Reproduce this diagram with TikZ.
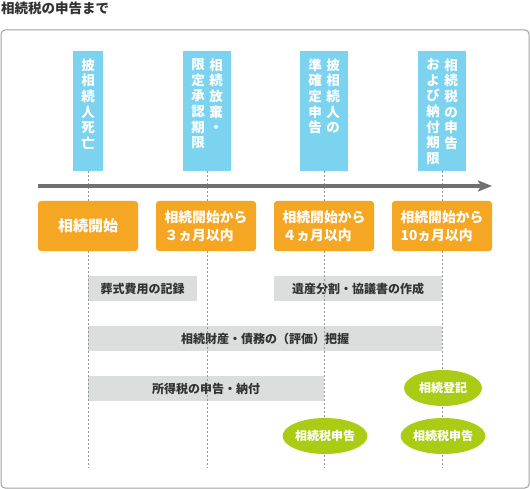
\documentclass[tikz,border=0pt]{standalone}
\usepackage{fontspec}
\setmainfont{Noto Sans CJK JP}
\usetikzlibrary{arrows.meta,shapes.geometric}
\definecolor{skyb}{RGB}{123,211,240}
\definecolor{orng}{RGB}{245,166,35}
\definecolor{barg}{RGB}{220,221,221}
\definecolor{leaf}{RGB}{170,204,20}
\definecolor{axisg}{RGB}{112,112,112}
\definecolor{dashg}{RGB}{150,150,150}
\definecolor{frameg}{RGB}{160,160,160}
\definecolor{textg}{RGB}{51,51,51}
\begin{document}
\begin{tikzpicture}[x=1pt,y=-1pt,
  bluebox/.style={fill=skyb, draw=none, inner sep=0pt, minimum height=120pt},
  vtext/.style={text=white, font=\bfseries\fontsize{13.5}{15.6}\selectfont, align=center, inner sep=0pt, anchor=north},
  orangebox/.style={fill=orng, rounded corners=3pt, minimum width=100pt, minimum height=50pt, inner sep=0pt, text=white, font=\bfseries\fontsize{13.8}{18}\selectfont, align=left},
  barbox/.style={fill=barg, minimum height=25pt, inner sep=0pt, text=textg, font=\bfseries\fontsize{12}{14}\selectfont},
  leafell/.style={ellipse, fill=leaf, minimum width=78pt, minimum height=36pt, inner sep=0pt, text=white, font=\bfseries\fontsize{12}{14}\selectfont},
  guide/.style={draw=dashg, line width=0.8pt, dash pattern=on 2pt off 2pt},
]
\useasboundingbox (0,0) rectangle (530,489);
% title
\node[anchor=base west, font=\bfseries\fontsize{13.5}{16}\selectfont, text=textg, inner sep=0pt] (title) at (1,14) {相続税の申告まで};
% frame
\draw[draw=frameg, line width=1pt, rounded corners=4pt] (1,30) rectangle (529,488);

% blue boxes
\node[bluebox, minimum width=30pt] (b1) at (88,111) {};
\node[bluebox, minimum width=48pt] (b2) at (207,111) {};
\node[bluebox, minimum width=48pt] (b3) at (324,111) {};
\node[bluebox, minimum width=48pt] (b4) at (442,111) {};
\node[vtext] (t1) at (88,58.5) {披\\相\\続\\人\\死\\亡};
\node[vtext] (t2r) at (216,58.5) {相\\続\\放\\棄\\・};
\node[vtext] (t2l) at (198,58.5) {限\\定\\承\\認\\期\\限};
\node[vtext] (t3r) at (333,58.5) {披\\相\\続\\人\\の};
\node[vtext] (t3l) at (315,58.5) {準\\確\\定\\申\\告};
\node[vtext] (t4r) at (451,58.5) {相\\続\\税\\の\\申\\告};
\node[vtext] (t4l) at (433,58.5) {お\\よ\\び\\納\\付\\期\\限};

% gray bars
\node[barbox, minimum width=109pt] (g1) at (142.5,288.5) {葬式費用の記録};
\node[barbox, minimum width=168pt] (g2) at (358,288.5) {遺産分割・協議書の作成};
\node[barbox, minimum width=354pt] (g3) at (265,338.5) {相続財産・債務の（評価）把握};
\node[barbox, minimum width=236pt] (g4) at (206,388.5) {所得税の申告・納付};

% guide lines
\coordinate (d1) at (88,468);
\coordinate (d2) at (207,468);
\coordinate (d3) at (324,468);
\coordinate (d4) at (442,468);
\draw[guide] (b1.south) -- (d1);
\draw[guide] (b2.south) -- (d2);
\draw[guide] (b3.south) -- (d3);
\draw[guide] (b4.south) -- (d4);

% time axis
\coordinate (axs) at (38,186);
\coordinate (axe) at (492,186);
\draw[draw=axisg, line width=3.5pt, -{Stealth[length=14pt,width=11pt,inset=3pt]}] (axs) -- (axe);

% orange boxes
\node[orangebox, font=\bfseries\fontsize{15}{18}\selectfont] (o1) at (88,226) {相続開始};
\node[orangebox] (o2) at (206,226) {相続開始から\\３ヵ月以内};
\node[orangebox] (o3) at (324,226) {相続開始から\\４ヵ月以内};
\node[orangebox] (o4) at (442,226) {相続開始から\\10ヵ月以内};

% green ellipses
\node[leafell] (e1) at (443,388) {相続登記};
\node[leafell] (e2) at (325,436) {相続税申告};
\node[leafell] (e3) at (443,436) {相続税申告};
\end{tikzpicture}
\end{document}
